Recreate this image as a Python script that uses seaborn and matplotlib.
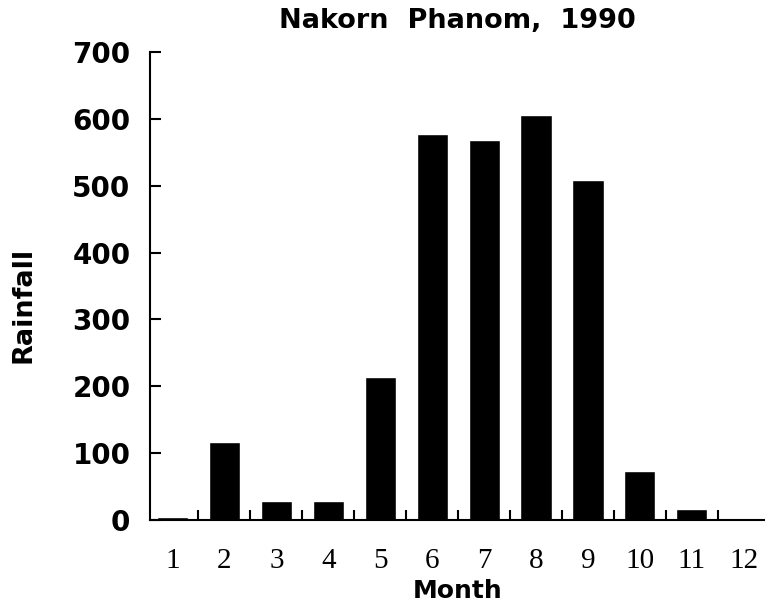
import numpy as np
import pandas as pd
import matplotlib
matplotlib.use('Agg')
import matplotlib.pyplot as plt
import seaborn as sns

# データ
months = ['1', '2', '3', '4', '5', '6', '7', '8', '9', '10', '11', '12']
rainfall = [5, 117, 29, 28, 214, 578, 569, 606, 508, 74, 16, 0]
title = 'Nakorn  Phanom,  1990'

df = pd.DataFrame({'Month': months, 'Rainfall': rainfall})

sns.set_style('white')
plt.rcParams['font.family'] = ['DejaVu Sans']
plt.rcParams['text.color'] = 'black'
plt.rcParams['axes.labelcolor'] = 'black'
plt.rcParams['xtick.color'] = 'black'
plt.rcParams['ytick.color'] = 'black'

fig = plt.figure(figsize=(7.65, 6.07), dpi=100)
ax = fig.add_axes([0.196, 0.1433, 0.804, 0.771])

sns.barplot(data=df, x='Month', y='Rainfall', color='black', width=0.6,
            saturation=1, ax=ax)

ax.set_xlim(-0.435, 11.41)
ax.set_ylim(0, 700)
ax.set_yticks(np.arange(0, 701, 100))

sns.despine(ax=ax)
for s in ['left', 'bottom']:
    ax.spines[s].set_linewidth(1.5)
    ax.spines[s].set_color('black')

# 目盛り
ax.tick_params(axis='y', direction='in', length=8, width=1.5, pad=14,
               labelsize=20, left=True)
for lab in ax.get_yticklabels():
    lab.set_fontweight('bold')
ax.tick_params(axis='x', which='major', length=0, pad=20)
for lab in ax.get_xticklabels():
    lab.set_family('Liberation Serif')
    lab.set_fontsize(21)
ax.set_xticks(np.arange(0.5, 11, 1), minor=True)
ax.tick_params(axis='x', which='minor', direction='in', length=7, width=1.5,
               bottom=True)

ax.set_xlabel('Month', fontsize=18, fontweight='bold', labelpad=4)
ax.set_ylabel('Rainfall', fontsize=19.5, fontweight='bold')
ax.yaxis.set_label_coords(-0.184, 0.46)
ax.set_title(title, fontsize=19.5, fontweight='bold', pad=17)

fig.savefig('out.png', dpi=100)
